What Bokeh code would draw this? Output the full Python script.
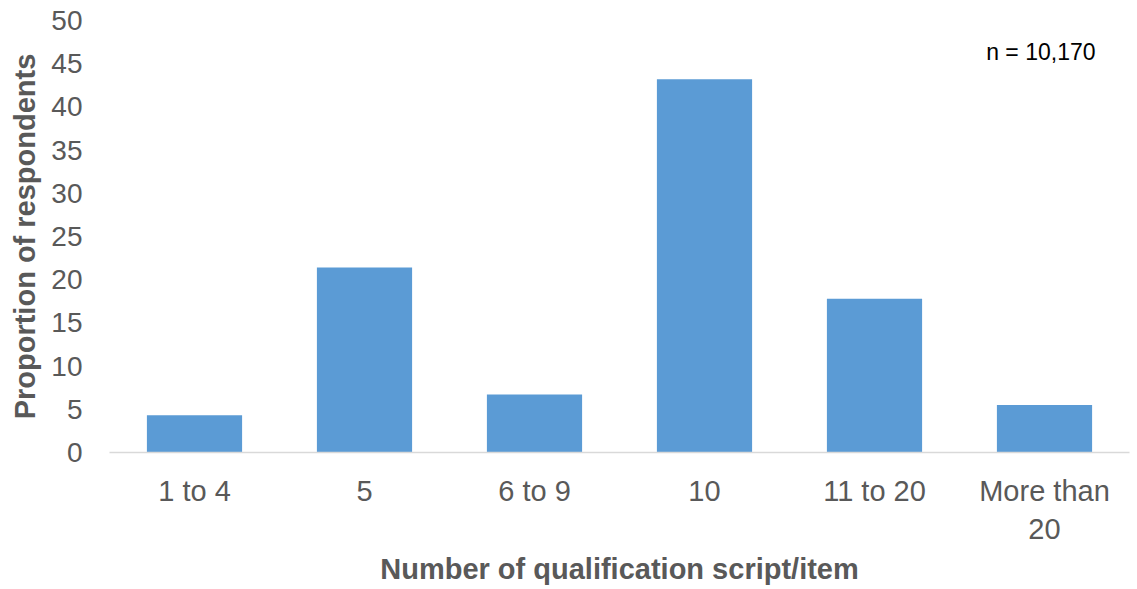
from bokeh.plotting import figure
from bokeh.models import ColumnDataSource, Range1d, FactorRange, Label, FixedTicker
from bokeh.embed import file_html
from bokeh.resources import INLINE

categories = ["1 to 4", "5", "6 to 9", "10", "11 to 20", "More than\n20"]
values = [4.3, 21.4, 6.7, 43.2, 17.8, 5.5]
y_ticks = [0, 5, 10, 15, 20, 25, 30, 35, 40, 45, 50]
note = "n = 10,170"

FONT = "Liberation Sans"
GREY = "#595959"

source = ColumnDataSource(dict(cat=categories, val=values))

p = figure(
    width=1133, height=589,
    x_range=FactorRange(*categories, range_padding=0),
    y_range=Range1d(0, 50),
    output_backend="svg", toolbar_location=None,
    min_border_left=109, min_border_right=4,
    min_border_top=20, min_border_bottom=137,
)
p.outline_line_color = None
p.background_fill_color = "white"
p.border_fill_color = "white"

p.vbar(x="cat", top="val", width=0.56, source=source,
       fill_color="#5B9BD5", line_color=None)

p.xgrid.grid_line_color = None
p.ygrid.grid_line_color = None

# y axis
p.yaxis.ticker = FixedTicker(ticks=y_ticks)
p.yaxis.axis_line_color = None
p.yaxis.major_tick_line_color = None
p.yaxis.minor_tick_line_color = None
p.yaxis.major_tick_out = 0
p.yaxis.major_label_text_font = FONT
p.yaxis.major_label_text_font_size = "28px"
p.yaxis.major_label_text_color = GREY
p.yaxis.major_label_standoff = 27
p.yaxis.axis_label = "Proportion of respondents"
p.yaxis.axis_label_text_font = FONT
p.yaxis.axis_label_text_font_size = "29px"
p.yaxis.axis_label_text_font_style = "bold"
p.yaxis.axis_label_text_color = GREY
p.yaxis.axis_label_standoff = 7

# x axis
p.xaxis.axis_line_color = "#D9D9D9"
p.xaxis.axis_line_width = 1.5
p.xaxis.major_tick_line_color = None
p.xaxis.minor_tick_line_color = None
p.xaxis.major_tick_out = 0
p.xaxis.major_label_text_font = FONT
p.xaxis.major_label_text_font_size = "29px"
p.xaxis.major_label_text_color = GREY
p.xaxis.major_label_standoff = 22
p.xaxis.axis_label = "Number of qualification script/item"
p.xaxis.axis_label_text_font = FONT
p.xaxis.axis_label_text_font_size = "29px"
p.xaxis.axis_label_text_font_style = "bold"
p.xaxis.axis_label_text_color = GREY
p.xaxis.axis_label_standoff = 5

p.add_layout(Label(x=5.8, y=46.4, text=note, text_align="right",
                   text_baseline="middle", text_font=FONT,
                   text_font_size="23px", text_color="black"))

open("out.html", "w").write(file_html(p, INLINE))
